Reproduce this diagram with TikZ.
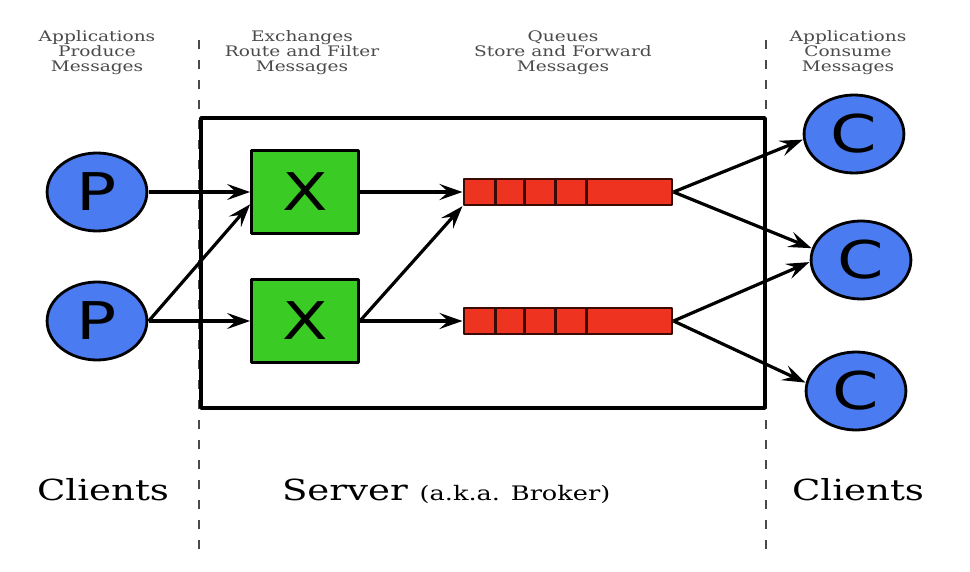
\documentclass[tikz,border=0pt]{standalone}
\usepackage{fontspec}
\setmainfont{DejaVu Serif}
\setsansfont{DejaVu Sans}
\usetikzlibrary{arrows.meta}

\definecolor{pblue}{HTML}{4A7BF0}
\definecolor{xgreen}{HTML}{3BCB25}
\definecolor{qred}{HTML}{EE3320}
\definecolor{qline}{HTML}{3A0A05}
\definecolor{capgrey}{HTML}{4A4A4A}

\begin{document}
\begin{tikzpicture}[x=1pt, y=-1pt, line width=3.2pt, line join=round,
  every node/.style={xscale=1.28},
  client/.style={circle, draw, line width=2.8pt, fill=pblue, minimum size=78pt, inner sep=0pt,
    font=\sffamily\fontsize{52}{52}\selectfont},
  exch/.style={rectangle, draw, line width=2.8pt, fill=xgreen, minimum size=83pt, inner sep=0pt,
    font=\sffamily\fontsize{52}{52}\selectfont},
  queue/.style={rectangle, draw=qline, line width=2.4pt, fill=qred, minimum width=162.5pt,
    minimum height=26pt, inner sep=0pt},
  caption/.style={align=center, inner sep=0pt, text=capgrey, font=\fontsize{14.5}{15}\selectfont},
  bigtitle/.style={anchor=base, inner sep=0pt, font=\fontsize{29}{34}\selectfont},
  flow/.style={-{Stealth[length=23pt, width=16pt, inset=9pt]}},
  divider/.style={capgrey, line width=2pt, line cap=butt, dash pattern=on 9pt off 11pt}]

  %% ════ 分隔线与服务器框 ════
  \draw[divider] (199,40) -- (199,556);
  \draw[divider] (766,40) -- (766,556);
  \draw[line width=3.6pt] (201,118) rectangle (765,408);

  %% ════ 节点 ════
  \node[client] (p1) at (97,192) {P};
  \node[client] (p2) at (97,321) {P};
  \node[exch] (x1) at (305,192) {X};
  \node[exch] (x2) at (305,321) {X};
  \node[queue] (q1) at (568,192) {};
  \node[queue] (q2) at (568,321) {};
  \node[client] (c1) at (854,134) {C};
  \node[client] (c2) at (861,260) {C};
  \node[client] (c3) at (856,391) {C};

  % 队列格子
  \foreach \q in {q1,q2}
    \foreach \d in {33,62,93,124}
      \draw[qline, line width=2.4pt] ([xshift=\d pt]\q.north west) -- ([xshift=\d pt]\q.south west);

  %% ════ 连线 ════
  \draw[flow] (p1.east) -- (x1.west);
  \draw[flow] (p2.east) -- (x1.196);
  \draw[flow] (p2.east) -- (x2.west);
  \draw[flow] (x1.east) -- (q1.west);
  \draw[flow] (x2.east) -- (q1.south west);
  \draw[flow] (x2.east) -- (q2.west);
  \draw[flow] (q1.east) -- (c1.188);
  \draw[flow] (q1.east) -- (c2.163);
  \draw[flow] (q2.east) -- (c2.183);
  \draw[flow] (q2.east) -- (c3.168);

  %% ════ 标签 ════
  \node[caption] (capprod) at (97,53) {Applications\\Produce\\Messages};
  \node[caption] (capexch) at (302,53) {Exchanges\\Route and Filter\\Messages};
  \node[caption] (capqueue) at (563,53) {Queues\\Store and Forward\\Messages};
  \node[caption] (capcons) at (848,53) {Applications\\Consume\\Messages};

  \node[bigtitle] (clientsl) at (103,500) {Clients};
  \node[bigtitle, anchor=base west] (server) at (280,500)
    {Server {\fontsize{20}{24}\selectfont (a.k.a. Broker)}};
  \node[bigtitle] (clientsr) at (858,500) {Clients};

  % 钉死画布
  \pgfresetboundingbox
  \path[use as bounding box] (0,0) rectangle (970,572);
\end{tikzpicture}
\end{document}
